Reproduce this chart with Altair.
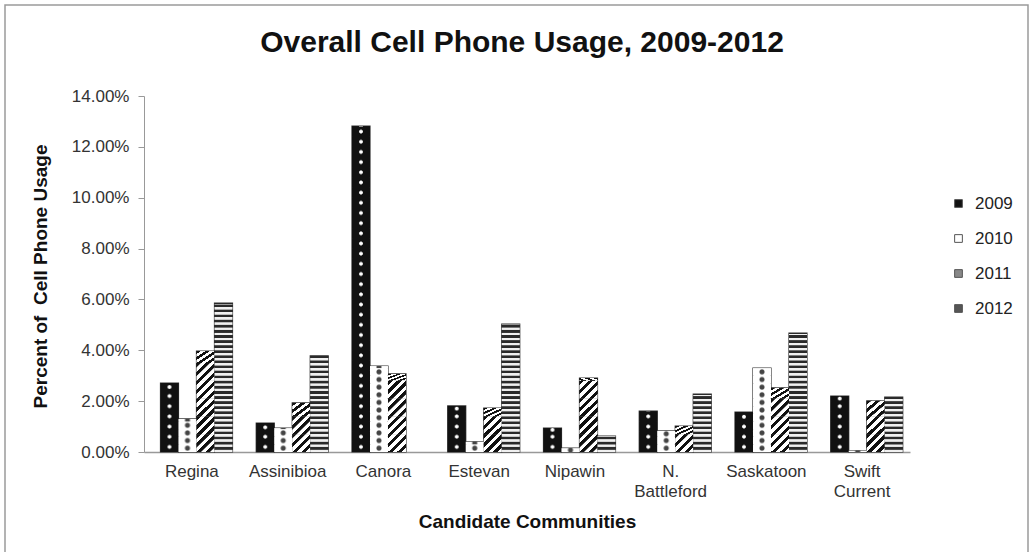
import altair as alt
import pandas as pd

communities = ["Regina", "Assinibioa", "Canora", "Estevan", "Nipawin",
               "N. Battleford", "Saskatoon", "Swift Current"]
years = ["2009", "2010", "2011", "2012"]
usage_2009 = [2.71, 1.14, 12.82, 1.81, 0.94, 1.61, 1.57, 2.20]
usage_2010 = [1.30, 0.94, 3.38, 0.40, 0.15, 0.83, 3.30, 0.05]
usage_2011 = [3.97, 1.93, 3.07, 1.73, 2.91, 1.02, 2.52, 2.01]
usage_2012 = [5.86, 3.78, 0.00, 5.03, 0.63, 2.28, 4.68, 2.16]
y_ticks = [0, 2, 4, 6, 8, 10, 12, 14]

series = {"2009": usage_2009, "2010": usage_2010, "2011": usage_2011, "2012": usage_2012}

# long table of bars
rows = []
for yr in years:
    for c, v in zip(communities, series[yr]):
        rows.append({"community": c, "year": yr, "value": v})
df_bars = pd.DataFrame(rows)

# pattern tiles: each bar split into equal tiles (last one clipped at the value)
tile = {"2009": 0.4, "2010": 0.3, "2011": 0.7, "2012": 0.2}
seg_rows = []
for yr in years:
    h = tile[yr]
    for c, v in zip(communities, series[yr]):
        k = 0
        while k * h < v - 1e-9:
            seg_rows.append({"community": c, "year": yr, "y0": k * h, "y1": min((k + 1) * h, v)})
            k += 1
df_seg = pd.DataFrame(seg_rows)

def stops(pairs):
    return [alt.GradientStop(offset=o, color=col) for o, col in pairs]

grad = {
    "2009": alt.RadialGradient(gradient="radial", x1=0.5, y1=0.5, r1=0, x2=0.5, y2=0.5, r2=0.5,
                               stops=stops([(0, "#ffffff"), (0.16, "#ffffff"), (0.26, "#111111"), (1, "#111111")])),
    "2010": alt.RadialGradient(gradient="radial", x1=0.5, y1=0.5, r1=0, x2=0.5, y2=0.5, r2=0.5,
                               stops=stops([(0, "#444444"), (0.22, "#444444"), (0.34, "#ffffff"), (1, "#ffffff")])),
    "2011": alt.LinearGradient(gradient="linear", x1=0, y1=0, x2=1, y2=1,
                               stops=stops(sum([[(k * 0.25, "#111111"), (k * 0.25 + 0.12, "#111111"),
                                                 (k * 0.25 + 0.13, "#ffffff"), (k * 0.25 + 0.25, "#ffffff")]
                                                for k in range(4)], []))),
    "2012": alt.LinearGradient(gradient="linear", x1=0, y1=0, x2=0, y2=1,
                               stops=stops([(0, "#2a2a2a"), (0.5, "#2a2a2a"), (0.55, "#f0f0f0"), (1, "#f0f0f0")])),
}

FONT = "Liberation Sans"

x_enc = alt.X("community:N", sort=communities,
              scale=alt.Scale(paddingInner=0.24, paddingOuter=0.12),
              title="Candidate Communities",
              axis=alt.Axis(labelAngle=0, ticks=False, labelPadding=11, labelFontSize=17,
                            labelColor="#333333", labelFont=FONT, labelLineHeight=20,
                            labelExpr="datum.value == 'N. Battleford' ? ['N.', 'Battleford'] : "
                                      "datum.value == 'Swift Current' ? ['Swift', 'Current'] : datum.value",
                            domainColor="#999999", domainWidth=1.5,
                            titleFont=FONT, titleFontSize=19, titleFontWeight="bold", titleColor="#111111",
                            titleY=69, titleBaseline="middle"))
xo_enc = alt.XOffset("year:N", sort=years,
                     scale=alt.Scale(domain=years, range=[5, 77], paddingInner=0, paddingOuter=0))

def y_enc(field):
    return alt.Y(field, scale=alt.Scale(domain=[0, 14], nice=False),
                 title="Percent of\u00a0 Cell Phone Usage",
                 axis=alt.Axis(values=y_ticks, grid=False, tickSize=6, labelPadding=9,
                               labelExpr="format(datum.value, '.2f') + '%'",
                               labelFontSize=17, labelColor="#333333", labelFont=FONT,
                               domainColor="#999999", tickColor="#999999",
                               titleFont=FONT, titleFontSize=19, titleFontWeight="bold",
                               titleColor="#111111", titleX=-104, titleY=180,
                               titleBaseline="middle", titleAlign="center", titleAngle=-90))

base = alt.Chart(df_bars).transform_filter("datum.value > 0").mark_bar(
    stroke="#333333", strokeWidth=1.2
).encode(
    x=x_enc,
    xOffset=xo_enc,
    y=y_enc("value:Q"),
    color=alt.Color("year:N", sort=years,
                    scale=alt.Scale(domain=years, range=["#111111", "#ffffff", "#888888", "#555555"]),
                    legend=alt.Legend(title=None, orient="none", legendX=806, legendY=99,
                                      symbolType="square", symbolSize=60, symbolStrokeColor="#555555",
                                      symbolStrokeWidth=1, labelFontSize=17, labelFont=FONT,
                                      labelColor="#222222", labelOffset=8, rowPadding=17, padding=0)),
)

layers = []
for yr in years:
    layers.append(
        alt.Chart(df_seg).transform_filter(f"datum.year == '{yr}'").mark_bar(
            fill=grad[yr], strokeWidth=0
        ).encode(x=x_enc, xOffset=xo_enc, y=y_enc("y0:Q"), y2="y1:Q")
    )

frame = alt.Chart(pd.DataFrame({"d": [0]})).mark_rect(filled=False, stroke="#9a9a9a", strokeWidth=1.5).encode(
    x=alt.value(-139), x2=alt.value(884), y=alt.value(-91), y2=alt.value(470)
)

chart = alt.layer(frame, base, *layers).properties(
    width=766, height=356,
    background="white",
    padding={"left": 144, "top": 96, "right": 123, "bottom": 100},
    autosize=alt.AutoSizeParams(type="none"),
    title=alt.TitleParams("Overall Cell Phone Usage, 2009-2012", font=FONT, fontSize=30,
                          fontWeight="bold", color="#111111", anchor="middle", baseline="alphabetic",
                          offset=-78, dx=-5),
).configure_view(strokeWidth=0, strokeOpacity=0)

chart.save("out.html", embed_options={"renderer": "svg", "actions": False})
